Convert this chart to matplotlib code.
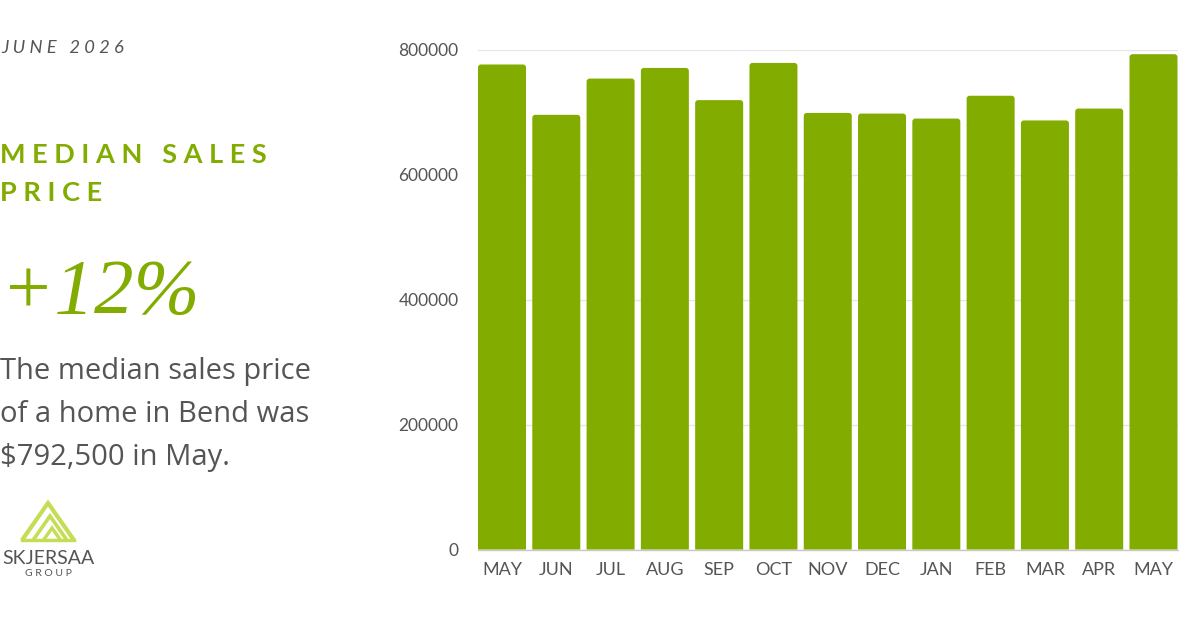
import matplotlib
matplotlib.use("Agg")
import matplotlib.pyplot as plt
from matplotlib.patches import PathPatch, Polygon
from matplotlib.path import Path

# ---- data ----
months = ["MAY", "JUN", "JUL", "AUG", "SEP", "OCT", "NOV", "DEC", "JAN", "FEB", "MAR", "APR", "MAY"]
prices = [776000, 695500, 753500, 770500, 719000, 778500, 698500, 697500, 689500, 726000, 686500, 705500, 792500]
yticks = [0, 200000, 400000, 600000, 800000]
ytick_labels = ["0", "200000", "400000", "600000", "800000"]

GREEN = "#82ac00"
GREY = "#555555"
LOGO = "#c4dd55"

fig = plt.figure(figsize=(12, 6.3), dpi=100)
fig.patch.set_facecolor("white")

# overlay in pixel coordinates for the left panel
bg = fig.add_axes([0, 0, 1, 1])
bg.set_xlim(0, 1200)
bg.set_ylim(630, 0)
bg.axis("off")

sans = ["Lato", "DejaVu Sans"]
wide = ["Open Sans", "DejaVu Sans"]
bg.text(1, 48, "J U N E   2 0 2 6", fontsize=13.2, style="italic", color=GREY,
        family=sans, va="center", ha="left")
bg.text(0, 155, "M E D I A N   S A L E S", fontsize=19.5, fontweight="bold", color=GREEN,
        family=sans, va="center", ha="left")
bg.text(0, 193, "P R I C E", fontsize=19.5, fontweight="bold", color=GREEN,
        family=sans, va="center", ha="left")
bg.text(1, 313, "+12%", fontsize=57, style="italic", color=GREEN,
        family=["Liberation Serif", "DejaVu Serif"], va="baseline", ha="left")
for i, line in enumerate(["The median sales price", "of a home in Bend was", "$792,500 in May."]):
    bg.text(0, 371 + i * 43.5, line, fontsize=21, color=GREY, family=wide,
            va="center", ha="left")

# logo: nested chevrons
for k, (h, lw) in enumerate([(37, 3.0), (24, 2.6), (12, 2.4)]):
    top_y = 540 - h
    half = h * 0.70
    cx = 48 + k * 2
    bg.add_patch(Polygon([(cx - half, 540), (cx, top_y), (cx + half, 540)], closed=False,
                         fill=False, edgecolor=LOGO, linewidth=lw, joinstyle="miter"))
bg.plot([22, 74], [540, 540], color=LOGO, lw=2.5)
bg.text(48, 558, "SKJERSAA", fontsize=14, color=GREY, family=sans, va="center", ha="center")
bg.text(48, 573, "G R O U P", fontsize=7.5, color=GREY, family=sans, va="center", ha="center")

# ---- bar chart ----
ax = fig.add_axes([478 / 1200, 80.5 / 630, 699.5 / 1200, 500 / 630])
ax.set_facecolor("none")
x = list(range(len(months)))
w = 0.884
bars = ax.bar(x, prices, width=w, color=GREEN, zorder=3)
# replace with top-rounded bars (single path, no seams)
rx = 0.055
ry = rx * 54.3 * (800000 / 500)
for b in bars:
    x0, y0 = b.get_x(), b.get_y()
    bw, bh = b.get_width(), b.get_height()
    x1, y1 = x0 + bw, y0 + bh
    b.set_visible(False)
    verts = [(x0, y0), (x0, y1 - ry), (x0, y1), (x0 + rx, y1), (x1 - rx, y1),
             (x1, y1), (x1, y1 - ry), (x1, y0), (x0, y0)]
    codes = [Path.MOVETO, Path.LINETO, Path.CURVE3, Path.CURVE3, Path.LINETO,
             Path.CURVE3, Path.CURVE3, Path.LINETO, Path.CLOSEPOLY]
    ax.add_patch(PathPatch(Path(verts, codes), facecolor=GREEN, edgecolor="none", zorder=3))

ax.set_xlim(-w / 2, len(months) - 1 + w / 2)
ax.set_ylim(0, 800000)
ax.set_yticks(yticks)
ax.set_yticklabels(ytick_labels)
ax.set_xticks(x)
ax.set_xticklabels(months)
ax.grid(axis="y", color="#e6e6e6", linewidth=1, zorder=0)
ax.set_axisbelow(True)
for s in ["top", "right", "left"]:
    ax.spines[s].set_visible(False)
ax.spines["bottom"].set_color("#c8c8c8")
ax.spines["bottom"].set_linewidth(1)
ax.spines["bottom"].set_zorder(2)
ax.tick_params(axis="both", length=0, colors=GREY)
ax.tick_params(axis="y", pad=14, labelsize=12.5)
ax.tick_params(axis="x", pad=9, labelsize=13)
for lab in ax.get_xticklabels() + ax.get_yticklabels():
    lab.set_family(sans)

fig.savefig("out.png", dpi=100, facecolor="white")
